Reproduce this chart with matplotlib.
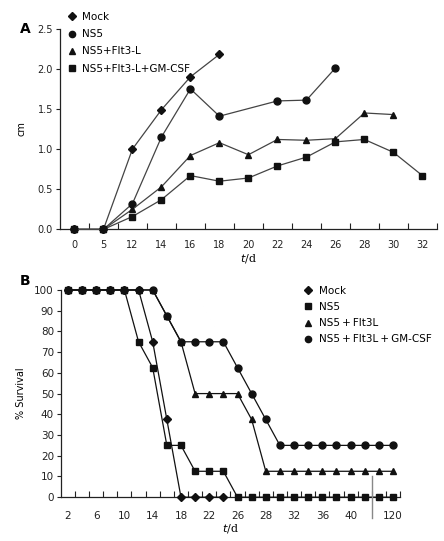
import numpy as np
import matplotlib
matplotlib.use("Agg")
from matplotlib import pyplot as plt
from matplotlib.lines import Line2D

# panel A: tumour size (cm)
days_a = ['0', '5', '12', '14', '16', '18', '20', '22', '24', '26', '28', '30', '32']
mock_a = [0, 0, 1.00, 1.49, 1.90, 2.18]
ns5_a = [0, 0, 0.32, 1.15, 1.75, 1.41, np.nan, 1.60, 1.61, 2.01]
flt_a = [0, 0, 0.25, 0.53, 0.92, 1.08, 0.93, 1.12, 1.11, 1.13, 1.45, 1.43]
gm_a = [0, 0, 0.16, 0.37, 0.67, 0.60, 0.64, 0.79, 0.90, 1.09, 1.12, 0.96, 0.67]

# panel B: % survival
days_b = ['2', '4', '6', '8', '10', '12', '14', '16', '18', '20', '22', '24',
          '26', '27', '28', '30', '32', '34', '36', '38', '40', '42', '44', '120']
shown_b = ['2', '6', '10', '14', '18', '22', '26', '28', '32', '36', '40', '120']
mock_b = [100, 100, 100, 100, 100, 100, 75, 37.5, 0, 0, 0, 0]
ns5_b = [100, 100, 100, 100, 100, 75, 62.5, 25, 25, 12.5, 12.5, 12.5] + [0] * 12
flt_b = [100, 100, 100, 100, 100, 100, 100, 87.5, 75, 50, 50, 50, 50, 37.5] + [12.5] * 10
gm_b = [100, 100, 100, 100, 100, 100, 100, 87.5, 75, 75, 75, 75, 62.5, 50, 37.5] + [25] * 9
break_at = 21.5

plt.rcParams['font.family'] = 'DejaVu Sans'
plt.rcParams['font.size'] = 7
fig = plt.figure(figsize=(4.44, 5.41), dpi=100)


def draw(ax, vals, marker, ms, color, z):
    y = np.array(vals, dtype=float)
    x = np.arange(len(y))
    ok = ~np.isnan(y)
    ax.plot(x[ok], y[ok], color=color, lw=0.9, marker=marker, ms=ms,
            mfc='#111111', mec='#111111', zorder=z, clip_on=False)


def style(ax):
    ax.spines['top'].set_visible(False)
    ax.spines['right'].set_visible(False)
    for s in ('left', 'bottom'):
        ax.spines[s].set_linewidth(0.9)
        ax.spines[s].set_color('#222222')
    ax.tick_params(axis='y', direction='out', length=3, width=0.8, pad=2, colors='#222222')
    ax.tick_params(axis='x', which='major', length=0, pad=8, colors='#222222')
    ax.tick_params(axis='x', which='minor', direction='in', length=4, width=0.8, color='#222222')


# ---- panel A
ax1 = fig.add_axes([0.135, 0.576, 0.849, 0.371])
draw(ax1, mock_a, 'D', 4.5, '#444444', 3)
draw(ax1, ns5_a, 'o', 5, '#444444', 4)
draw(ax1, flt_a, '^', 5, '#444444', 5)
draw(ax1, gm_a, 's', 5, '#444444', 6)
ax1.set_xlim(-0.5, len(days_a) - 0.5)
ax1.set_ylim(0, 2.5)
ax1.set_yticks(np.arange(0, 2.51, 0.5))
ax1.set_yticklabels(['%.1f' % v for v in np.arange(0, 2.51, 0.5)])
ax1.set_xticks(np.arange(len(days_a)))
ax1.set_xticklabels(days_a)
ax1.set_xticks(np.arange(len(days_a)) + 0.5, minor=True)
style(ax1)
ax1.set_ylabel('cm', labelpad=8)
ax1.set_xlabel('$t$/d', family='DejaVu Serif', fontsize=8, labelpad=1)
fig.text(0.045, 0.947, 'A', fontsize=10, fontweight='bold', va='center')

hand_a = [Line2D([], [], ls='none', marker=m, ms=s, color='#111111')
          for m, s in [('D', 4), ('o', 4.5), ('^', 4.5), ('s', 4.5)]]
fig.legend(hand_a, ['Mock', 'NS5', 'NS5+Flt3-L', 'NS5+Flt3-L+GM-CSF'],
           loc='upper left', bbox_to_anchor=(0.152, 0.978), frameon=False,
           handlelength=0.8, handletextpad=0.6, labelspacing=0.7, fontsize=7.5,
           borderpad=0, borderaxespad=0)

# ---- panel B
ax2 = fig.add_axes([0.137, 0.081, 0.764, 0.383])
draw(ax2, flt_b, '^', 5, '#111111', 3)
draw(ax2, gm_b, 'o', 5, '#111111', 4)
draw(ax2, mock_b, 'D', 4.5, '#111111', 5)
draw(ax2, ns5_b, 's', 5, '#111111', 6)
ax2.set_xlim(-0.5, len(days_b) - 0.5)
ax2.set_ylim(0, 100)
ax2.set_yticks(np.arange(0, 101, 10))
ticks_b = [i for i, d in enumerate(days_b) if d in shown_b]
ax2.set_xticks(ticks_b)
ax2.set_xticklabels([days_b[i] for i in ticks_b])
ax2.set_xticks(np.arange(len(days_b)) + 0.5, minor=True)
style(ax2)
ax2.tick_params(axis='y', labelsize=7.5)
ax2.tick_params(axis='x', labelsize=7.5, pad=10)
ax2.plot([break_at, break_at], [-10, 10], color='#888888', lw=1, clip_on=False, zorder=7)
ax2.set_ylabel('% Survival', labelpad=6)
ax2.set_xlabel('$t$/d', family='DejaVu Serif', fontsize=8, labelpad=1)
fig.text(0.045, 0.48, 'B', fontsize=10, fontweight='bold', va='center')

hand_b = [Line2D([], [], ls='none', marker=m, ms=s, color='#111111')
          for m, s in [('D', 4), ('s', 4.5), ('^', 4.5), ('o', 4.5)]]
fig.legend(hand_b, ['Mock', 'NS5', 'NS5\u2009+\u2009Flt3L', 'NS5\u2009+\u2009Flt3L\u2009+\u2009GM-CSF'],
           loc='upper left', bbox_to_anchor=(0.685, 0.472), frameon=False,
           handlelength=0.8, handletextpad=0.6, labelspacing=0.6, fontsize=7.5,
           borderpad=0, borderaxespad=0)

fig.savefig('out.png', dpi=100)
